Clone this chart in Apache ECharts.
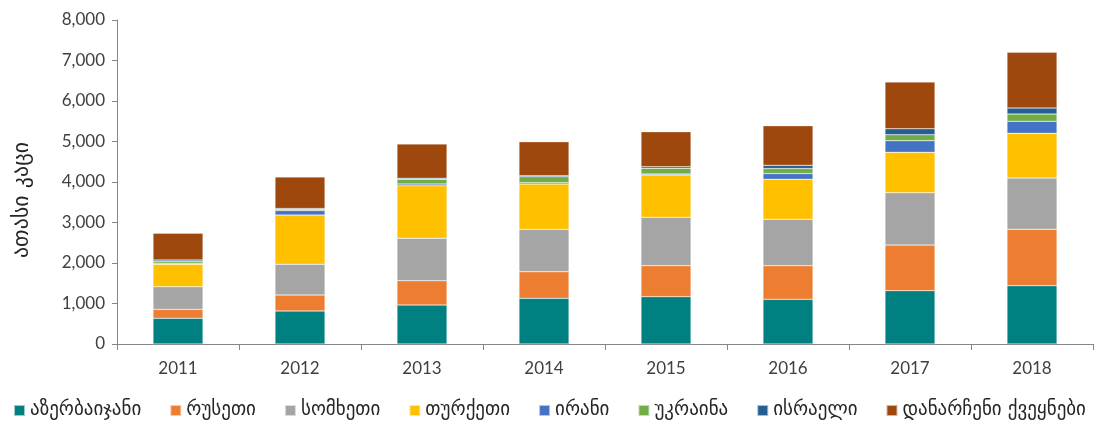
<!DOCTYPE html>
<html>
<head>
<meta charset="utf-8">
<script src="https://cdn.jsdelivr.net/npm/echarts@6/dist/echarts.min.js"></script>
<style>
  html, body { margin: 0; padding: 0; background: #fff; }
  #main { width: 1097px; height: 426px; }
</style>
</head>
<body>
<div id="main"></div>
<script>
// წლები
var years = ['2011', '2012', '2013', '2014', '2015', '2016', '2017', '2018'];

// ათასი კაცი, ქვეყნების მიხედვით
var azerbaijan = [635, 815, 963, 1128, 1169, 1103, 1316, 1440];
var russia     = [220, 395, 600, 657, 764, 830, 1128, 1392];
var armenia    = [560, 758, 1047, 1046, 1195, 1146, 1292, 1267];
var turkey     = [553, 1217, 1299, 1120, 1045, 988, 997, 1103];
var iran       = [25, 110, 42, 32, 25, 140, 287, 297];
var ukraine    = [45, 30, 116, 148, 140, 125, 148, 180];
var israel     = [36, 20, 24, 25, 40, 80, 148, 148];
var others     = [660, 780, 847, 839, 864, 978, 1153, 1375];

var yTicks = [0, 1000, 2000, 3000, 4000, 5000, 6000, 7000, 8000];

var names = ['აზერბაიჯანი', 'რუსეთი', 'სომხეთი', 'თურქეთი', 'ირანი', 'უკრაინა', 'ისრაელი', 'დანარჩენი ქვეყნები'];
var colors = ['#008080', '#ED7D31', '#A5A5A5', '#FFC000', '#4472C4', '#70AD47', '#255E91', '#9E480E'];
var values = [azerbaijan, russia, armenia, turkey, iran, ukraine, israel, others];

var myChart = echarts.init(document.getElementById('main'));

var series = names.map(function (n, i) {
    return {
        name: n,
        type: 'bar',
        stack: 'total',
        barWidth: 50,
        data: values[i],
        itemStyle: { color: colors[i], borderColor: 'rgba(255,255,255,0.6)', borderWidth: 0.5 }
    };
});

myChart.setOption({
    animation: false,
    color: colors,
    grid: { left: 117, right: 4, top: 20, bottom: 82 },
    legend: {
        data: names,
        bottom: 1,
        left: 8,
        icon: 'rect',
        itemWidth: 11,
        itemHeight: 11,
        itemGap: 28,
        textStyle: { fontFamily: 'DejaVu Sans', fontSize: 19, color: '#262626' }
    },
    xAxis: {
        type: 'category',
        data: years,
        axisLine: { lineStyle: { color: '#868686' } },
        axisTick: { show: true, length: 6, lineStyle: { color: '#868686' } },
        axisLabel: { fontFamily: 'Lato', fontSize: 17, color: '#404040', margin: 16 }
    },
    yAxis: {
        type: 'value',
        min: yTicks[0],
        max: yTicks[yTicks.length - 1],
        interval: 1000,
        name: 'ათასი კაცი',
        nameLocation: 'middle',
        nameGap: 84,
        nameTextStyle: { fontFamily: 'DejaVu Sans', fontSize: 22, color: '#262626', padding: [0, 36, 0, 0] },
        axisLine: { show: true, lineStyle: { color: '#868686' } },
        axisTick: { show: true, length: 5, lineStyle: { color: '#868686' } },
        splitLine: { show: false },
        axisLabel: {
            fontFamily: 'Lato', fontSize: 17, color: '#404040', margin: 12,
            formatter: function (v) { return v.toLocaleString('en-US'); }
        }
    },
    series: series
});
</script>
</body>
</html>
